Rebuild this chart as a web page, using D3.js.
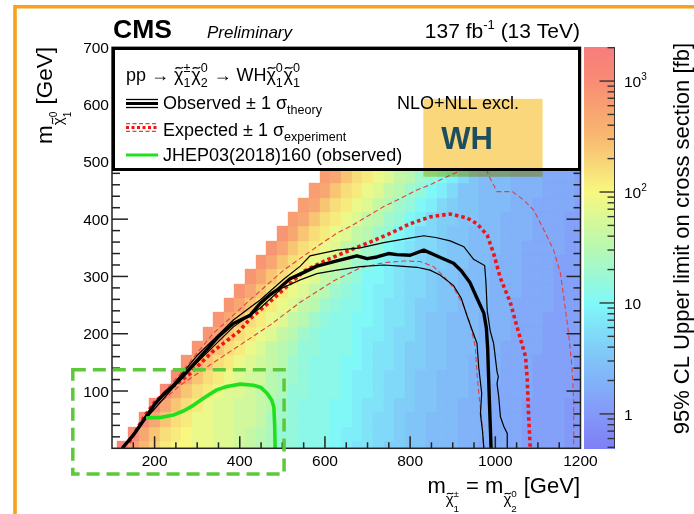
<!DOCTYPE html>
<html><head><meta charset="utf-8">
<script src="https://cdn.jsdelivr.net/npm/d3@7"></script>
<style>
html,body{margin:0;padding:0;background:#fff;}
svg{display:block;}
text{font-family:"Liberation Sans",Arial,Helvetica,sans-serif;fill:#000;}
</style></head><body>
<svg id="chart" width="694" height="514"></svg>
<script>
// ---------------- DATA ----------------
const mChargino = [125,150,175,200,225,250,275,300,325,350,375,400,425,450,475,500,525,550,575,600,625,650,675,700,725,750,775,800,825,850,875,900,925,950,975,1000,1025,1050,1075,1100,1125,1150,1175,1200];
const mLSP = [0,25,50,75,100,125,150,175,200,225,250,275,300,325,350,375,400,425,450,475];
// each row j starts at chargino column j (the diagonal); characters are levels in base 36
const heatRows = [
  "yvsqonnmml lkjihffeee dcbba99887 7766555544 4433",
  "xurponmmll kjihffeeed ccbaa98877 7666555444 433",
  "xurpommllk kjhgfeeedd cbaa988777 6665554444 33",
  "xurpomllkk jigfeeeddc bba9988776 6655544443 3",
  "xurpomllkj ihffeeedcc baa9887776 6555544443",
  "xurpomlkki hgfeeedccb aa98877766 655544443",
  "wurpomlkji gfeeeddcbb a998877666 55544443",
  "wurpomljih ffeeedcbba 9988777665 5554444",
  "wurpomljig feeedccbaa 9887776665 554444",
  "wurpomljig feeddcbba9 8877766655 54444",
  "wurpomljig feedcbba99 8877766555 5444",
  "wurpomljig fedccbaa98 8777666555 444",
  "wurpomljig fddcbaa988 7776665554 44",
  "wurpomljig fdcbba9988 7766655544 4",
  "wurpomljig fdcbaa9887 7766555544",
  "wurpomljig fdcaa98877 766655544",
  "vurpomljig fdca998877 66655544",
  "vurpomljig fdca988777 6655554",
  "vurpomljig fdca887776 665554",
  "vurpomljig fdca877766 65554"
];
const levelBase = -0.3, levelStep = 0.1;   // log10(sigma [fb]) = base + step*level
const paletteLog = [-0.31, 0, 0.5, 1, 1.5, 2, 2.5, 3, 3.31];
const paletteColor = ["#7f7ff5","#8498f8","#80c4f8","#80f8f8","#b8f8b0","#f8f880","#f8b870","#f88c74","#f87c7c"];

const observed = [[124,0],[152,25],[180,55],[201,78],[222,95],[245,110],[265,125],[290,145],[320,170],[350,195],[385,218],[424,232],[448,253],[471,268],[487,276],[518,296],[542,304],[581,318],[628,327],[675,336],[699,331],[722,334],[749,340],[769,338],[800,337],[832,346],[871,333],[902,323],[920,310],[940,290],[957,262],[973,236],[979,210],[982,175],[986,84],[990,0]];
const obsPlus = [[126,0],[180,57],[245,113],[300,162],[385,224],[448,259],[503,295],[542,318],[565,336],[628,346],[683,350],[738,359],[785,365],[832,371],[860,368],[894,362],[926,352],[949,330],[975,319],[978,290],[981,240],[988,205],[996,183],[1004,134],[1007,125],[1004,113],[1008,90],[1012,55],[1020,38],[1028,26],[1028,0]];
const obsMinus = [[122,0],[180,52],[245,107],[300,150],[385,212],[448,245],[500,280],[542,294],[581,305],[628,311],[683,317],[738,320],[777,318],[816,316],[847,311],[871,302],[902,284],[920,262],[934,230],[957,183],[961,142],[968,96],[965,60],[970,30],[973,0]];
const expected = [[140,10],[178,58],[202,82],[240,106],[280,128],[335,168],[398,204],[424,226],[468,254],[495,272],[550,309],[605,329],[659,346],[706,360],[753,375],[800,392],[847,404],[894,409],[934,402],[957,392],[981,372],[996,340],[1012,297],[1035,255],[1051,212],[1071,160],[1075,120],[1078,60],[1082,0]];
const expPlus = [[145,15],[200,80],[260,130],[337,200],[424,259],[503,311],[581,352],[629,376],[659,387],[738,422],[777,436],[816,451],[847,460],[875,470],[910,482],[930,492],[955,500],[978,490],[984,477],[1004,448],[1040,448],[1067,433],[1090,416],[1114,381],[1137,346],[1153,305],[1165,241],[1172,200],[1180,142],[1184,84],[1184,0]];
const expMinus = [[178,55],[213,80],[260,110],[335,148],[400,180],[471,215],[542,255],[620,292],[659,306],[683,315],[738,324],[785,327],[824,326],[855,317],[879,300],[902,280],[925,250],[940,220],[953,177],[957,131],[962,90],[968,50],[973,0]];
const jhep = [[180,53],[215,54],[244,58],[270,66],[291,75],[320,90],[346,102],[370,108],[401,112],[432,110],[450,106],[464,96],[475,84],[480,72],[482,40],[483,0]];

const xTicks = [200,400,600,800,1000,1200];
const yTicks = [100,200,300,400,500,600,700];
const zTicks = [1,10,100,1000];
const annotBoxX = [8,504], annotBoxY = [-45,137];
const whBoxX = [831,1111], whBoxY = [474,610];

// ---------------- CHART ----------------
const svg = d3.select('#chart');
const L = 112, R = 580.5, T = 47.3, B = 448.3;
const x = d3.scaleLinear().domain([100,1200]).range([L,R]);
const y = d3.scaleLinear().domain([0,700]).range([B,T]);
const z = d3.scaleLog().domain([0.49,2015]).range([B,T]);
const color = d3.scaleLinear().domain(paletteLog).range(paletteColor).clamp(true);

svg.append('rect').attr('width',694).attr('height',514).attr('fill','#fff');
svg.append('path').attr('d','M15,514V6.7H694').attr('fill','none').attr('stroke','#f8a21c').attr('stroke-width',3.6);

const defs = svg.append('defs');
defs.append('clipPath').attr('id','plotClip').append('rect')
  .attr('x',L).attr('y',T).attr('width',R-L).attr('height',B-T);

// heat map
const heat = svg.append('g').attr('clip-path','url(#plotClip)');
heatRows.forEach((row,j) => {
  const s = row.replace(/ /g,'');
  const ym = mLSP[j];
  for (let c = 0; c < s.length; c++) {
    const xm = mChargino[j+c];
    if (xm === undefined) continue;
    const lv = levelBase + levelStep*parseInt(s[c],36);
    const px0 = Math.round(x(Math.max(100, xm-12.5))), px1 = Math.round(x(Math.min(1200, xm+12.5)));
    const py0 = Math.round(y(Math.max(0, ym-12.5))), py1 = Math.round(y(ym+12.5));
    heat.append('rect').attr('x',px0).attr('y',py1)
      .attr('width',px1-px0).attr('height',py0-py1)
      .attr('fill',color(lv)).attr('stroke',color(lv)).attr('stroke-width',0.35);
  }
});

// contours
const line = d3.line().x(d=>x(d[0])).y(d=>y(d[1]));
const cg = svg.append('g').attr('clip-path','url(#plotClip)').attr('fill','none');
cg.append('path').datum(expPlus).attr('d',line).attr('stroke','#e04040').attr('stroke-width',1.1).attr('stroke-dasharray','5,3');
cg.append('path').datum(expMinus).attr('d',line).attr('stroke','#e04040').attr('stroke-width',1.1).attr('stroke-dasharray','5,3');
cg.append('path').datum(expected).attr('d',line).attr('stroke','#ee1515').attr('stroke-width',3.6).attr('stroke-dasharray','3.5,3');
cg.append('path').datum(obsPlus).attr('d',line).attr('stroke','#000').attr('stroke-width',1.2);
cg.append('path').datum(obsMinus).attr('d',line).attr('stroke','#000').attr('stroke-width',1.2);
cg.append('path').datum(observed).attr('d',line).attr('stroke','#000').attr('stroke-width',3.4).attr('stroke-linejoin','round');
cg.append('path').datum(jhep).attr('d',line).attr('stroke','#1ee01e').attr('stroke-width',3.6).attr('stroke-linejoin','round');

// frame and ticks
const ax = svg.append('g').attr('stroke','#222').attr('stroke-width',1.5);
ax.append('rect').attr('x',L).attr('y',T).attr('width',R-L).attr('height',B-T).attr('fill','none');
d3.range(150,1200,50).forEach(v => {
  const len = xTicks.includes(v) ? 12 : 6;
  ax.append('line').attr('x1',x(v)).attr('x2',x(v)).attr('y1',B).attr('y2',B-len);
});
d3.range(20,700,20).forEach(v => {
  const major = v % 100 === 0;
  ax.append('line').attr('x1',L).attr('x2',L+(major?16:8)).attr('y1',y(v)).attr('y2',y(v));
  ax.append('line').attr('x1',R).attr('x2',R-(major?14:7)).attr('y1',y(v)).attr('y2',y(v));
});
const tl = svg.append('g').attr('font-size',15.5);
xTicks.forEach(v => tl.append('text').attr('x',x(v)).attr('y',466).attr('text-anchor','middle').text(v));
yTicks.forEach(v => tl.append('text').attr('x',109).attr('y',y(v)+5.5).attr('text-anchor','end').text(v));

// rich text helper (tilde drawn as a small path)
function rich(parent, px, py, parts, size, opts={}) {
  const g = parent.append('g').attr('transform',`translate(${px},${py})`+(opts.rotate?` rotate(${opts.rotate})`:''));
  const inner = g.append('g');
  let cx = 0;
  const mk = (t,s,dy,st) => {
    const el = inner.append('text').attr('x',cx).attr('y',dy*size).attr('font-size',s*size).text(t);
    if (st) el.attr('font-style',st);
    return el;
  };
  parts.forEach(p => {
    if (p.stack) {
      let w = 0;
      p.stack.forEach(q => { const el = mk(q.t,q.s||1,q.dy||0); w = Math.max(w, el.node().getComputedTextLength()); });
      cx += w + (p.gap||0.04)*size;
    } else {
      const s = p.s||1, dy = p.dy||0;
      const el = mk(p.t,s,dy,p.style);
      const w = el.node().getComputedTextLength();
      if (p.tilde) {
        const fs = s*size, tx = cx + w/2 + 0.03*fs, ty = dy*size - 0.7*fs;
        const tw = 0.42*fs, a = 0.05*fs;
        inner.append('path')
          .attr('d',`M${tx-tw/2},${ty+a}C${tx-tw/6},${ty-3*a} ${tx+tw/6},${ty+3*a} ${tx+tw/2},${ty-a}`)
          .attr('fill','none').attr('stroke','#000').attr('stroke-width',Math.max(0.8,0.07*fs));
      }
      cx += w;
    }
  });
  if (opts.anchor==='end') inner.attr('transform',`translate(${-cx},0)`);
  if (opts.anchor==='middle') inner.attr('transform',`translate(${-cx/2},0)`);
  return g;
}
const SP = '\u00A0';

// legend
const lg = svg.append('g');
lg.append('rect').attr('x',113.5).attr('y',48.5).attr('width',466).attr('height',121)
  .attr('fill','#fff').attr('stroke','#000').attr('stroke-width',3);
const chi = {t:'χ', tilde:true};
rich(lg, 126, 80.5, [
  {t:'pp'+SP+'→'+SP}, chi, {stack:[{t:'±',s:0.7,dy:-0.45},{t:'1',s:0.7,dy:0.34}]},
  chi, {stack:[{t:'0',s:0.7,dy:-0.45},{t:'2',s:0.7,dy:0.34}]},
  {t:SP+'→'+SP+'WH'}, chi, {stack:[{t:'0',s:0.7,dy:-0.45},{t:'1',s:0.7,dy:0.34}]},
  chi, {stack:[{t:'0',s:0.7,dy:-0.45},{t:'1',s:0.7,dy:0.34}]}
], 18);
rich(lg, 163, 109, [{t:'Observed'+SP+'±'+SP+'1'+SP+'σ'},{t:'theory',s:0.7,dy:0.3}], 18);
rich(lg, 163, 135.5, [{t:'Expected'+SP+'±'+SP+'1'+SP+'σ'},{t:'experiment',s:0.7,dy:0.3}], 18);
lg.append('text').attr('x',163).attr('y',161).attr('font-size',18).text('JHEP03(2018)160 (observed)');
const ls = lg.append('g').attr('fill','none');
ls.append('line').attr('x1',126).attr('x2',158).attr('y1',99.5).attr('y2',99.5).attr('stroke','#000').attr('stroke-width',1.3);
ls.append('line').attr('x1',126).attr('x2',158).attr('y1',103.5).attr('y2',103.5).attr('stroke','#000').attr('stroke-width',3);
ls.append('line').attr('x1',126).attr('x2',158).attr('y1',107.5).attr('y2',107.5).attr('stroke','#000').attr('stroke-width',1.3);
ls.append('line').attr('x1',126).attr('x2',158).attr('y1',123.7).attr('y2',123.7).attr('stroke','#e04040').attr('stroke-width',1.2).attr('stroke-dasharray','4,2.5');
ls.append('line').attr('x1',126).attr('x2',158).attr('y1',127.5).attr('y2',127.5).attr('stroke','#ee1515').attr('stroke-width',3).attr('stroke-dasharray','3,2.5');
ls.append('line').attr('x1',126).attr('x2',158).attr('y1',131.3).attr('y2',131.3).attr('stroke','#e04040').attr('stroke-width',1.2).attr('stroke-dasharray','4,2.5');
ls.append('line').attr('x1',126).attr('x2',158).attr('y1',155).attr('y2',155).attr('stroke','#1ee01e').attr('stroke-width',3);
lg.append('text').attr('x',397).attr('y',108.5).attr('font-size',18).text('NLO+NLL excl.');

// WH box
svg.append('rect').attr('x',x(whBoxX[0])).attr('y',y(whBoxY[1]))
  .attr('width',x(whBoxX[1])-x(whBoxX[0])).attr('height',y(whBoxY[0])-y(whBoxY[1]))
  .attr('fill','#f9d77a').style('mix-blend-mode','multiply');
svg.append('text').attr('x',(x(whBoxX[0])+x(whBoxX[1]))/2-16).attr('y',148.5).attr('text-anchor','middle')
  .attr('font-size',31).attr('font-weight','bold').style('fill','#1d4e5e').text('WH');

// green dashed annotation box
svg.append('rect').attr('x',x(annotBoxX[0])).attr('y',y(annotBoxY[1]))
  .attr('width',x(annotBoxX[1])-x(annotBoxX[0])).attr('height',y(annotBoxY[0])-y(annotBoxY[1]))
  .attr('fill','none').attr('stroke','#5cc83a').attr('stroke-width',3.5).attr('stroke-dasharray','13,7');

// header texts
svg.append('text').attr('x',113).attr('y',37.5).attr('font-size',26.5).attr('font-weight','bold').text('CMS');
svg.append('text').attr('x',207).attr('y',37.5).attr('font-size',17).attr('font-style','italic').text('Preliminary');
rich(svg, 580, 37.5, [{t:'137'+SP+'fb'},{t:'-1',s:0.62,dy:-0.42},{t:SP+'(13'+SP+'TeV)'}], 21, {anchor:'end'});

// axis titles
rich(svg, 52, 47, [
  {t:'m'}, {t:'χ',s:0.68,dy:0.5,tilde:true},
  {stack:[{t:'0',s:0.45,dy:0.22},{t:'1',s:0.45,dy:0.85}]},
  {t:SP+'[GeV]'}
], 22.5, {rotate:-90, anchor:'end'});
rich(svg, 580, 493, [
  {t:'m'}, {t:'χ',s:0.68,dy:0.5,tilde:true},
  {stack:[{t:'±',s:0.45,dy:0.2},{t:'1',s:0.45,dy:0.85}]},
  {t:SP+'='+SP+'m'}, {t:'χ',s:0.68,dy:0.5,tilde:true},
  {stack:[{t:'0',s:0.45,dy:0.2},{t:'2',s:0.45,dy:0.85}]},
  {t:SP+'[GeV]'}
], 22, {anchor:'end'});

// colour bar
const CB0 = 584, CB1 = 614.5;
const cb = svg.append('g');
d3.range(Math.floor(T), Math.ceil(B)).forEach(py => {
  const v = z.invert(py+0.5);
  cb.append('rect').attr('x',CB0).attr('y',py).attr('width',CB1-CB0).attr('height',1.2)
    .attr('fill',color(Math.log10(v))).attr('shape-rendering','crispEdges');
});
const cbt = svg.append('g').attr('stroke','#333').attr('stroke-width',1.4);
cbt.append('line').attr('x1',CB1).attr('x2',CB1).attr('y1',T).attr('y2',B).attr('stroke-width',1);
[0.1,1,10,100,1000].forEach(dec => {
  for (let m = 1; m <= 9; m++) {
    const v = dec*m;
    if (v < 0.49 || v > 2015) continue;
    const major = zTicks.includes(v);
    cbt.append('line').attr('x1',CB1).attr('x2',CB1-(major?15:7)).attr('y1',z(v)).attr('y2',z(v));
  }
});
zTicks.forEach(v => {
  const e = Math.round(Math.log10(v));
  const parts = v >= 100 ? [{t:'10'},{t:String(e),s:0.65,dy:-0.45}] : [{t:String(v)}];
  rich(svg, 624, z(v)+6, parts, 15.5);
});
rich(svg, 688.5, 43, [{t:'95%'+SP+'CL'+SP+'Upper'+SP+'limit'+SP+'on'+SP+'cross'+SP+'section'+SP+'[fb]'}], 22, {rotate:-90, anchor:'end'});
</script></body></html>
